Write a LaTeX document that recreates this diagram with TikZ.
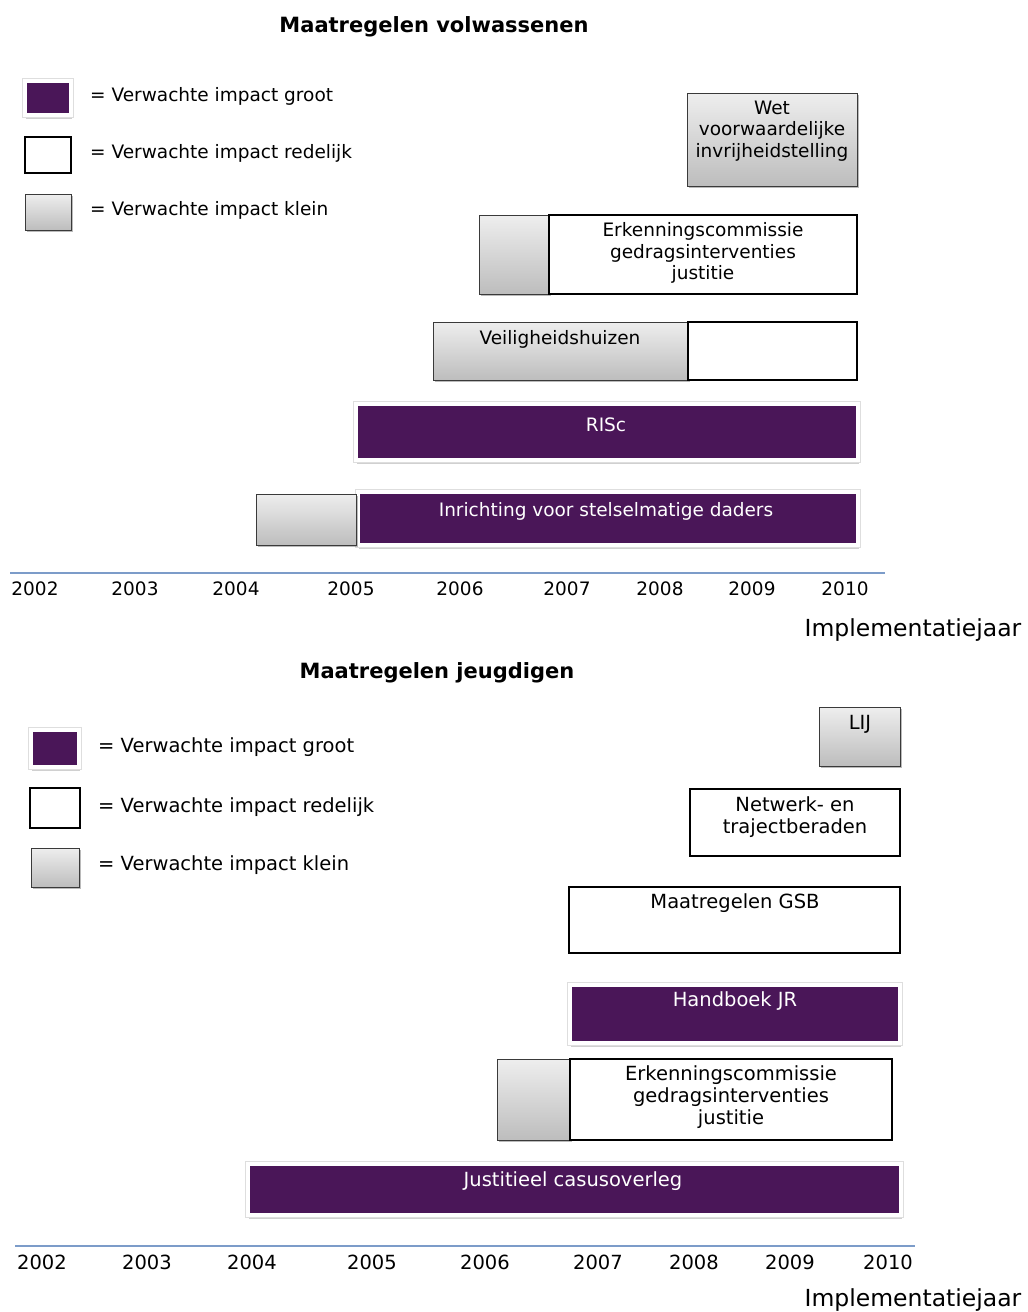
\documentclass[tikz,border=0pt]{standalone}
\usepackage{fontspec}
\setmainfont{DejaVu Sans}
\usetikzlibrary{shadows}
\definecolor{pbar}{HTML}{4A1658}
\definecolor{gtop}{HTML}{EEEEEE}
\definecolor{gbot}{HTML}{BDBDBD}
\definecolor{axisc}{HTML}{7C9CC9}
\definecolor{gedge}{HTML}{3A3A3A}
\tikzset{
  shd/.style={drop shadow={shadow xshift=1.5pt, shadow yshift=-2pt, opacity=0.45, fill=black!60}},
  pshd/.style={drop shadow={shadow xshift=1.2pt, shadow yshift=-3.5pt, opacity=0.3, fill=black!60}},
  purplebox/.style={pshd, preaction={draw=black!13, line width=5.5pt}, draw=white, line width=4pt, fill=pbar, inner sep=0pt, outer sep=0pt, anchor=north west},
  whitebox/.style={draw=black, line width=2pt, fill=white, inner sep=0pt, outer sep=0pt, anchor=north west},
  graybox/.style={draw=gedge, line width=1pt, top color=gtop, bottom color=gbot, shd, inner sep=0pt, outer sep=0pt, anchor=north west},
  ulbl/.style={font=\fontsize{18.5}{21.5}\selectfont, align=center, inner sep=0pt},
  llbl/.style={font=\fontsize{19.5}{21.7}\selectfont, align=center, inner sep=0pt},
  ttl/.style={font=\bfseries\fontsize{21}{24}\selectfont, inner sep=0pt},
  xlab/.style={font=\fontsize{23.5}{26}\selectfont, inner sep=0pt},
  axisline/.style={draw=axisc, line width=1.2pt}
}
\newcommand{\bx}[6]{\node[#1, minimum width={(#5-#3)*1pt}, minimum height={(#6-#4)*1pt}] (#2) at (#3,#4) {};}
\begin{document}
\begin{tikzpicture}[x=1pt,y=-1pt]
\useasboundingbox[fill=white] (0,0) rectangle (1028,1312);

% ---------------- upper chart ----------------
\node[ttl] (t1) at (434,27) {Maatregelen volwassenen};

\bx{purplebox}{ul1}{25}{81}{71}{115}
\bx{whitebox}{ul2}{25}{137}{71}{173}
\bx{graybox}{ul3}{25}{194}{71}{230}
\node[ulbl, anchor=west] (ult1) at (90,96) {= Verwachte impact groot};
\node[ulbl, anchor=west] (ult2) at (90,153) {= Verwachte impact redelijk};
\node[ulbl, anchor=west] (ult3) at (90,210) {= Verwachte impact klein};

\bx{graybox}{wet}{687}{93}{857}{186}
\node[ulbl] (wett) at (772,131) {Wet\\voorwaardelijke\\invrijheidstelling};

\bx{graybox}{ek1g}{479}{215}{549}{294}
\bx{whitebox}{ek1w}{549}{215}{857}{294}
\node[ulbl] (ek1t) at (703,253) {Erkenningscommissie\\gedragsinterventies\\justitie};

\bx{graybox}{vhg}{433}{322}{688}{380}
\bx{whitebox}{vhw}{688}{322}{857}{380}
\node[ulbl] (vht) at (560,339) {Veiligheidshuizen};

\bx{purplebox}{risc}{356}{404}{858}{460}
\node[ulbl, text=white] (risct) at (606,425) {RISc};

\bx{purplebox}{isdp}{358}{492}{858}{545}
\bx{graybox}{isdg}{256}{494}{356}{545}
\node[ulbl, text=white] (isdt) at (606,511) {Inrichting voor stelselmatige daders};

\coordinate (ua0) at (10,573);
\coordinate (ua1) at (885,573);
\draw[axisline] (ua0) -- (ua1);
\foreach \xx/\yy in {35/2002,135/2003,236/2004,351/2005,460/2006,567/2007,660/2008,752/2009,845/2010}
  \node[ulbl] (uy\yy) at (\xx,589) {\yy};
\node[xlab] (ux) at (913,630) {Implementatiejaar};

% ---------------- lower chart ----------------
\node[ttl] (t2) at (437,673) {Maatregelen jeugdigen};

\bx{purplebox}{ll1}{31}{730}{79}{767}
\bx{whitebox}{ll2}{30}{788}{80}{828}
\bx{graybox}{ll3}{31}{848}{79}{887}
\node[llbl, anchor=west] (llt1) at (98,747) {= Verwachte impact groot};
\node[llbl, anchor=west] (llt2) at (98,807) {= Verwachte impact redelijk};
\node[llbl, anchor=west] (llt3) at (98,865) {= Verwachte impact klein};

\bx{graybox}{lij}{819}{707}{900}{766}
\node[llbl] (lijt) at (860,724) {LIJ};

\bx{whitebox}{ntw}{690}{789}{900}{856}
\node[llbl] (ntwt) at (795,817) {Netwerk- en\\trajectberaden};

\bx{whitebox}{gsb}{569}{887}{900}{953}
\node[llbl] (gsbt) at (735,903) {Maatregelen GSB};

\bx{purplebox}{hjr}{570}{985}{900}{1043}
\node[llbl, text=white] (hjrt) at (735,1001) {Handboek JR};

\bx{graybox}{ek2g}{497}{1059}{570}{1140}
\bx{whitebox}{ek2w}{570}{1059}{892}{1140}
\node[llbl] (ek2t) at (731,1097) {Erkenningscommissie\\gedragsinterventies\\justitie};

\bx{purplebox}{jco}{248}{1164}{901}{1215}
\node[llbl, text=white] (jcot) at (573,1181) {Justitieel casusoverleg};

\coordinate (la0) at (15,1246);
\coordinate (la1) at (915,1246);
\draw[axisline] (la0) -- (la1);
\foreach \xx/\yy in {42/2002,147/2003,252/2004,372/2005,485/2006,598/2007,694/2008,790/2009,888/2010}
  \node[llbl] (ly\yy) at (\xx,1262) {\yy};
\node[xlab] (lx) at (913,1300) {Implementatiejaar};
\end{tikzpicture}
\end{document}
